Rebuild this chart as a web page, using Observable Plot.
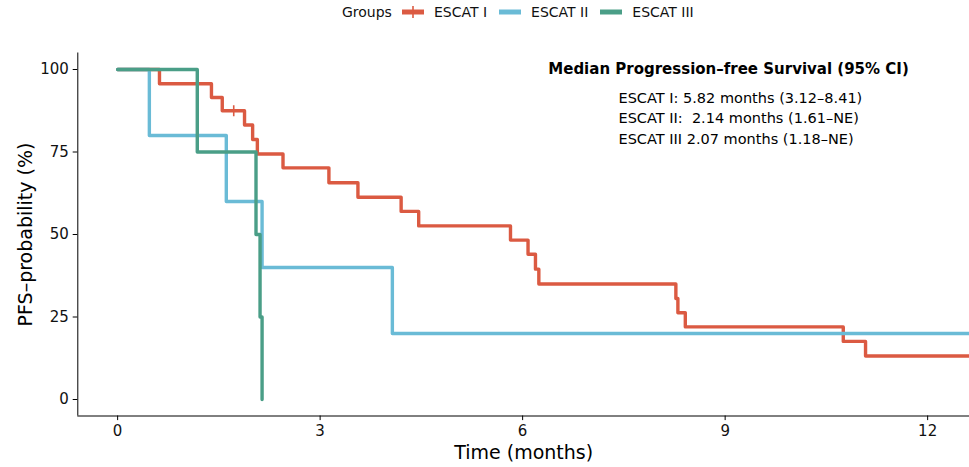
<!DOCTYPE html>
<html><head><meta charset="utf-8">
<script src="https://cdn.jsdelivr.net/npm/d3@7"></script>
<script src="https://cdn.jsdelivr.net/npm/@observablehq/plot@0.6"></script>
<style>
body{margin:0;background:#fff;font-family:"DejaVu Sans",sans-serif;}
#legend{height:24px;display:flex;align-items:center;padding-left:342px;font-size:14px;color:#111;box-sizing:border-box;}
#legend .key{display:inline-block;margin:0 10px 0 10px;}
#legend .lab{margin-right:2px;}
svg text{white-space:pre;}
</style></head><body>
<div id="legend"></div>
<div id="chart"></div>
<script>
// ---- data ----
const groups = ["ESCAT I", "ESCAT II", "ESCAT III"];
const colors = ["#DB5A42", "#6ABBD6", "#4A9E87"];

const escat1Time = [0, 0.62, 1.39, 1.55, 1.88, 2.00, 2.07, 2.45, 3.13, 3.56, 4.20, 4.46, 5.82, 6.08, 6.19, 6.24, 8.27, 8.30, 8.41, 10.75, 11.08, 12.8];
const escat1Surv = [100, 95.7, 91.5, 87.5, 83.2, 78.8, 74.4, 70.2, 65.7, 61.3, 57.0, 52.6, 48.3, 44.0, 39.5, 35.0, 30.6, 26.3, 22.0, 17.6, 13.2, 13.2];

const escat2Time = [0, 0.47, 1.61, 2.14, 4.07, 12.8];
const escat2Surv = [100, 80, 60, 40, 20, 20];

const escat3Time = [0, 1.18, 2.05, 2.11, 2.14];
const escat3Surv = [100, 75, 50, 25, 0];

const censorGroup = ["ESCAT I"];
const censorTime = [1.72];
const censorSurv = [87.5];

const xTicks = [0, 3, 6, 9, 12];
const yTicks = [0, 25, 50, 75, 100];
const xDomain = [-0.59, 12.62];
const yDomain = [-5, 105];

const xTitle = "Time (months)";
const yTitle = "PFS\u2013probability (%)";
const annotTitle = "Median Progression\u2013free Survival (95% CI)";
const annotLines = [
  "ESCAT I: 5.82 months (3.12\u20138.41)",
  "ESCAT II:  2.14 months (1.61\u2013NE)",
  "ESCAT III 2.07 months (1.18\u2013NE)"
];
const legendTitle = "Groups";

// ---- tables ----
const series = [[escat1Time, escat1Surv], [escat2Time, escat2Surv], [escat3Time, escat3Surv]];
const rows = [];
series.forEach(([t, s], i) => t.forEach((v, j) => rows.push({group: groups[i], time: v, surv: s[j]})));
const censors = censorTime.map((v, i) => ({group: censorGroup[i], time: v, surv: censorSurv[i]}));

const plusSymbol = {
  draw(ctx, size) {
    const r = Math.sqrt(size / Math.PI);
    ctx.moveTo(-r, 0); ctx.lineTo(r, 0);
    ctx.moveTo(0, -r); ctx.lineTo(0, r);
  }
};

// ---- legend ----
const leg = document.getElementById("legend");
const lt = document.createElement("span"); lt.textContent = legendTitle; leg.appendChild(lt);
groups.forEach((g, i) => {
  const ns = "http://www.w3.org/2000/svg";
  const s = document.createElementNS(ns, "svg");
  s.setAttribute("width", 22); s.setAttribute("height", 14); s.setAttribute("class", "key");
  const r = document.createElementNS(ns, "line");
  r.setAttribute("x1", 0); r.setAttribute("x2", 22); r.setAttribute("y1", 7); r.setAttribute("y2", 7);
  r.setAttribute("stroke", colors[i]); r.setAttribute("stroke-width", 5);
  s.appendChild(r);
  if (censorGroup.includes(g)) {
    const p = document.createElementNS(ns, "line");
    p.setAttribute("x1", 11); p.setAttribute("x2", 11); p.setAttribute("y1", 1); p.setAttribute("y2", 13);
    p.setAttribute("stroke", colors[i]); p.setAttribute("stroke-width", 1.6);
    s.appendChild(p);
  }
  leg.appendChild(s);
  const t = document.createElement("span"); t.className = "lab"; t.textContent = g; leg.appendChild(t);
});

// ---- chart ----
const chart = Plot.plot({
  width: 969,
  height: 443,
  marginLeft: 77.3,
  marginRight: 0,
  marginTop: 28.5,
  marginBottom: 51.5,
  style: {fontFamily: "DejaVu Sans, sans-serif", fontSize: "15px", color: "#111", background: "#fff"},
  x: {domain: xDomain},
  y: {domain: yDomain},
  color: {domain: groups, range: colors},
  marks: [
    Plot.ruleX([xDomain[0]], {stroke: "#000", strokeWidth: 1}),
    Plot.ruleY([yDomain[0]], {stroke: "#000", strokeWidth: 1}),
    Plot.axisX({ticks: xTicks, tickSize: 4.6, tickPadding: 5, fontSize: 15, label: null, stroke: "#000"}),
    Plot.axisY({ticks: yTicks, tickSize: 4.6, tickPadding: 4.4, fontSize: 15, label: null, stroke: "#000"}),
    Plot.text([xTitle], {frameAnchor: "bottom", lineAnchor: "middle", textAnchor: "middle", dy: 36.5, fontSize: 19, fill: "#000"}),
    Plot.text([yTitle], {frameAnchor: "left", lineAnchor: "middle", textAnchor: "middle", rotate: -90, dx: -52.3, fontSize: 19, fill: "#000"}),
    Plot.line(rows, {x: "time", y: "surv", z: "group", stroke: "group", curve: "step-after", strokeWidth: 3.4, clip: true}),
    Plot.dot(censors, {x: "time", y: "surv", stroke: "group", fill: "none", symbol: plusSymbol, r: 5.5, strokeWidth: 1.6}),
    Plot.text([annotTitle], {x: 9.05, y: 100, fontSize: 15, fontWeight: "bold", fill: "#000"}),
    Plot.text([annotLines.join("\n")], {x: 7.42, y: 85.7, textAnchor: "start", lineAnchor: "middle", lineHeight: 1.43, fontSize: 14.5, fill: "#000"})
  ]
});
document.getElementById("chart").appendChild(chart);
</script>
</body></html>
